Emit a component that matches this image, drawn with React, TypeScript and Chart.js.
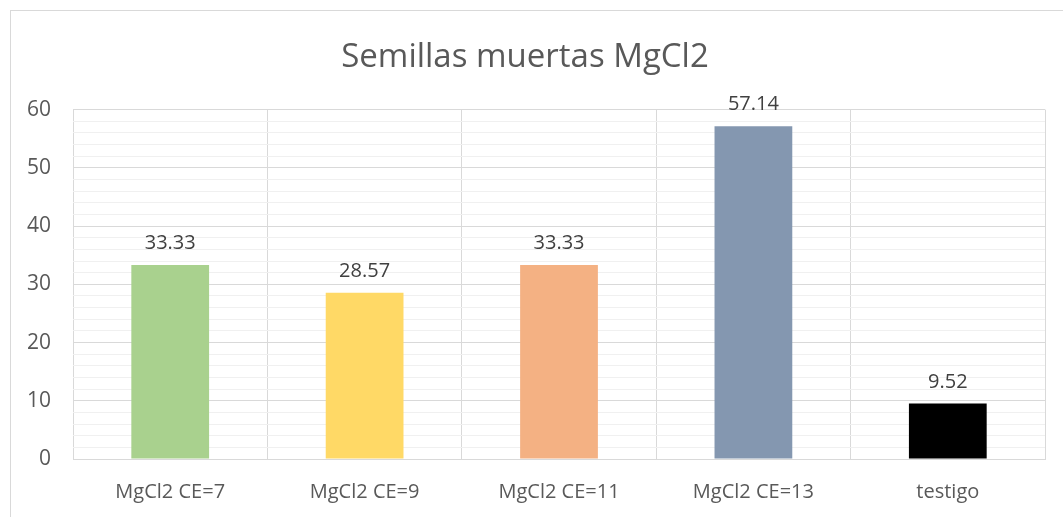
import React, { useEffect, useRef } from "react";
import { Chart, registerables } from "chart.js";
Chart.register(...registerables);

const categories = ["MgCl2 CE=7", "MgCl2 CE=9", "MgCl2 CE=11", "MgCl2 CE=13", "testigo"];
const values = [33.33, 28.57, 33.33, 57.14, 9.52];
const barColors = ["#A9D18E", "#FFD966", "#F4B183", "#8497B0", "#000000"];
const titleText = "Semillas muertas MgCl2";
const yMin = 0;
const yMax = 60;
const yMinorStep = 2;
const yMajorStep = 10;

const FONT = "'Open Sans', 'Noto Sans', sans-serif";

const dataLabelPlugin = {
  id: "dataLabels",
  afterDatasetsDraw(chart: any) {
    const ctx = chart.ctx;
    const meta = chart.getDatasetMeta(0);
    ctx.save();
    ctx.font = `20px ${FONT}`;
    ctx.fillStyle = "#404040";
    ctx.textAlign = "center";
    ctx.textBaseline = "alphabetic";
    meta.data.forEach((bar: any, i: number) => {
      ctx.fillText(values[i].toFixed(2), bar.x, bar.y - 16);
    });
    ctx.restore();
  },
};

export default function App() {
  const ref = useRef<HTMLCanvasElement | null>(null);
  useEffect(() => {
    if (!ref.current) return;
    const chart = new Chart(ref.current, {
      type: "bar",
      data: {
        labels: categories,
        datasets: [
          {
            data: values,
            backgroundColor: barColors,
            barPercentage: 0.4,
            categoryPercentage: 1,
          },
        ],
      },
      options: {
        animation: false,
        responsive: false,
        maintainAspectRatio: false,
        layout: { padding: { left: 5, right: 18, top: 14, bottom: -8 } },
        plugins: {
          legend: { display: false },
          tooltip: { enabled: false },
          title: {
            display: true,
            text: titleText,
            color: "#595959",
            font: { family: FONT, size: 33, weight: "normal" },
            padding: { top: 24, bottom: 32 },
          },
        },
        scales: {
          x: {
            grid: {
              offset: true,
              color: "#d9d9d9",
              lineWidth: 1,
              drawTicks: false,
            },
            border: { color: "#d9d9d9" },
            ticks: {
              color: "#595959",
              font: { family: FONT, size: 20 },
              padding: 21,
            },
          },
          y: {
            min: yMin,
            max: yMax,
            grid: {
              color: (c: any) => (c.tick && c.tick.value % yMajorStep === 0 ? "#d9d9d9" : "#f0f0f0"),
              lineWidth: 1,
              drawTicks: false,
            },
            border: { display: false },
            ticks: {
              stepSize: yMinorStep,
              autoSkip: false,
              color: "#595959",
              font: { family: FONT, size: 21 },
              padding: 22,
              callback: (v: any) => (Number(v) % yMajorStep === 0 ? String(v) : ""),
            },
          },
        },
      },
      plugins: [dataLabelPlugin],
    });
    return () => chart.destroy();
  }, []);
  return (
    <div style={{ position: "fixed", left: 0, top: 0, width: 1063, height: 517, background: "#fff" }}>
      <div
        style={{
          position: "absolute",
          left: 10,
          top: 10,
          width: 1100,
          height: 600,
          borderLeft: "1px solid #d9d9d9",
          borderTop: "1px solid #d9d9d9",
        }}
      />
      <canvas ref={ref} width={1063} height={517} style={{ position: "absolute", left: 0, top: 0 }} />
    </div>
  );
}
